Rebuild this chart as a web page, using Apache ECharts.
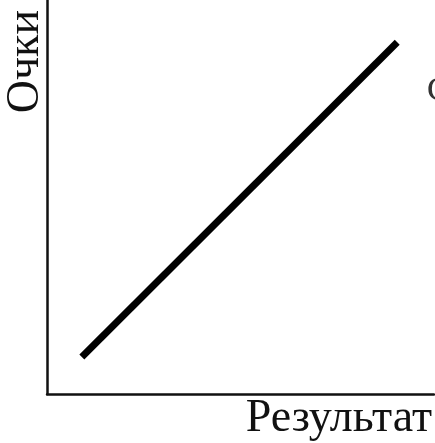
<!DOCTYPE html>
<html>
<head>
<meta charset="utf-8">
<script src="https://cdn.jsdelivr.net/npm/echarts@6/dist/echarts.min.js"></script>
<style>
  html, body { margin: 0; padding: 0; background: #fff; }
  #chart { width: 435px; height: 443px; }
</style>
</head>
<body>
<div id="chart"></div>
<script>
// axis titles
const xName = "Результат";
const yName = "Очки";
// the straight line: start and end points (arbitrary units)
const lineX = [0.9, 9.05];
const lineY = [0.94, 8.93];

const chart = echarts.init(document.getElementById("chart"));

const font = "'Liberation Serif', 'DejaVu Serif', serif";

chart.setOption({
    animation: false,
    grid: { left: 47, right: 0, top: 0, bottom: 49 },
    xAxis: {
        type: "value", min: 0, max: 10,
        name: xName,
        nameLocation: "end",
        nameGap: -2,
        nameTextStyle: {
            fontFamily: font, fontSize: 46, color: "#111",
            align: "right", verticalAlign: "top", padding: [2, 0, 0, 0]
        },
        axisLine: { lineStyle: { color: "#111", width: 2.5 } },
        axisTick: { show: false },
        axisLabel: { show: false },
        splitLine: { show: false }
    },
    yAxis: {
        type: "value", min: 0, max: 10,
        name: yName,
        nameLocation: "end",
        nameRotate: 90,
        nameGap: -10,
        nameTextStyle: {
            fontFamily: font, fontSize: 46, color: "#111",
            align: "right", verticalAlign: "bottom", padding: [0, 0, -2, 0]
        },
        axisLine: { lineStyle: { color: "#111", width: 2.5 } },
        axisTick: { show: false },
        axisLabel: { show: false },
        splitLine: { show: false }
    },
    graphic: [{
        type: "text", left: 427, top: 74,
        style: { text: "С", font: "34px " + font, fill: "#333" }
    }],
    series: [{
        type: "line",
        data: lineX.map((x, i) => [x, lineY[i]]),
        symbol: "none",
        lineStyle: { color: "#000", width: 7, cap: "butt" }
    }]
});
</script>
</body>
</html>
